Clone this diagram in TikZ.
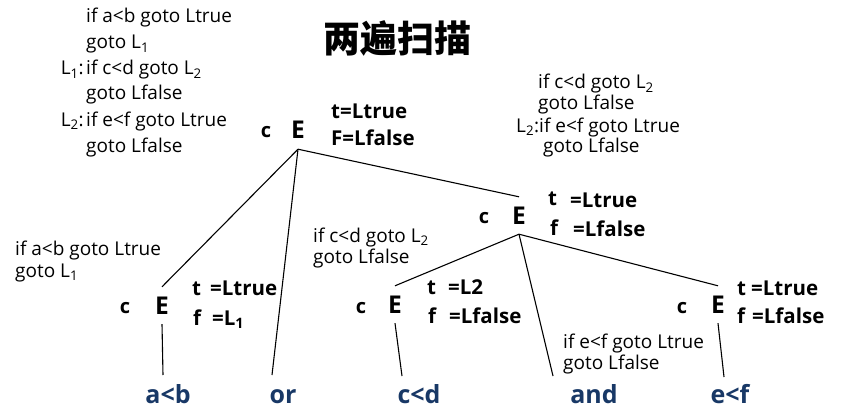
\documentclass[tikz,border=0pt]{standalone}
\usepackage{fontspec}
\setmainfont{Open Sans}
\newfontfamily\cjk{Noto Sans CJK SC}
\definecolor{leafblue}{RGB}{24,56,102}
\begin{document}
\begin{tikzpicture}[x=1pt,y=-1pt,
  code/.style={anchor=base west, inner sep=0pt, font=\fontsize{19}{22}\selectfont},
  codeR/.style={code, anchor=base east},
  attr/.style={anchor=base west, inner sep=0pt, font=\fontsize{20.5}{24}\selectfont\bfseries},
  enode/.style={anchor=base, inner xsep=0pt, inner ysep=10pt, text height=17pt, text depth=0pt, font=\fontsize{24.5}{28}\selectfont\bfseries},
  cnode/.style={anchor=base, inner sep=0pt, font=\fontsize{20}{24}\selectfont\bfseries},
  leaf/.style={anchor=base, inner sep=0pt, text=leafblue, font=\fontsize{25}{29}\selectfont\bfseries},
  edge/.style={draw, line width=1.1pt}]
\useasboundingbox (0,0) rectangle (856,417);

% title
\node[font=\cjk\fontsize{37}{42}\selectfont\bfseries] (title) at (397,38) {两遍扫描};

% top-left code block
\node[code] (a1) at (86,23) {if a<b goto Ltrue};
\node[code] (a2) at (86,49) {goto L\textsubscript{1}};
\node[codeR] (a3l) at (84,75) {L\textsubscript{1}:};
\node[code] (a3) at (86,75) {if c<d goto L\textsubscript{2}};
\node[code] (a4) at (86,100) {goto Lfalse};
\node[codeR] (a5l) at (84,126) {L\textsubscript{2}:};
\node[code] (a5) at (86,126) {if e<f goto Ltrue};
\node[code] (a6) at (86,152) {goto Lfalse};

% mid-right code block
\node[code] (b1) at (538,89) {if c<d goto L\textsubscript{2}};
\node[code] (b2) at (538,110) {goto Lfalse};
\node[code] (b3) at (516,132) {L\textsubscript{2}:if e<f goto Ltrue};
\node[code] (b4) at (543,153) {goto Lfalse};

% other code snippets
\node[code] (c1) at (15,255) {if a<b goto Ltrue};
\node[code] (c2) at (15,277) {goto L\textsubscript{1}};
\node[code] (d1) at (313,242) {if c<d goto L\textsubscript{2}};
\node[code] (d2) at (313,263) {goto Lfalse};
\node[code] (g1) at (563,348) {if e<f goto Ltrue};
\node[code] (g2) at (563,369) {goto Lfalse};

% root E
\node[cnode] (rc) at (266,137) {c};
\node[enode] (root) at (298,139) {E};
\node[attr] (rt) at (331,118) {t=Ltrue};
\node[attr] (rf) at (331,146) {F=Lfalse};

% right E
\node[cnode] (Rc) at (484,223) {c};
\node[enode] (ER) at (519,224) {E};
\node[attr] (Rt) at (548,205) {t};
\node[attr] (Rtv) at (570,207) {=Ltrue};
\node[attr] (Rf) at (550,235) {f};
\node[attr] (Rfv) at (573,236) {=Lfalse};

% left E
\node[cnode] (Lc) at (125,313) {c};
\node[enode] (EL) at (162,314) {E};
\node[attr] (Lt) at (192,295) {t};
\node[attr] (Ltv) at (210,295) {=Ltrue};
\node[attr] (Lf) at (193,325) {f};
\node[attr] (Lfv) at (212,325) {=L\textsubscript{1}};

% E2
\node[cnode] (Mc) at (361,313) {c};
\node[enode] (E2) at (395,313) {E};
\node[attr] (Mt) at (427,294) {t};
\node[attr] (Mtv) at (448,294) {=L2};
\node[attr] (Mf) at (428,323) {f};
\node[attr] (Mfv) at (449,323) {=Lfalse};

% E3
\node[cnode] (Nc) at (682,313) {c};
\node[enode] (E3) at (718,313) {E};
\node[attr] (Nt) at (737,295) {t};
\node[attr] (Ntv) at (751,295) {=Ltrue};
\node[attr] (Nf) at (737,323) {f};
\node[attr] (Nfv) at (752,323) {=Lfalse};

% leaves
\node[leaf] (ab) at (168,403) {a<b};
\node[leaf] (or) at (283,403) {or};
\node[leaf] (cd) at (419,403) {c<d};
\node[leaf] (and) at (594,403) {and};
\node[leaf] (ef) at (730,403) {e<f};

% connector ends above leaves
\coordinate (abtop) at (163,375);
\coordinate (ortop) at (272,375);
\coordinate (cdtop) at (402,376);
\coordinate (andtop) at (553,376);
\coordinate (eftop) at (724,377);

% connectors
\draw[edge] (root.south) -- (EL.north);
\draw[edge] (root.south) -- (ortop);
\draw[edge] (root.south) -- (ER.north);
\draw[edge] (ER.south) -- (E2.north);
\draw[edge] (ER.south) -- (andtop);
\draw[edge] (ER.south) -- (E3.north);
\draw[edge] (EL.south) -- (abtop);
\draw[edge] (E2.south) -- (cdtop);
\draw[edge] (E3.south) -- (eftop);
\end{tikzpicture}
\end{document}
